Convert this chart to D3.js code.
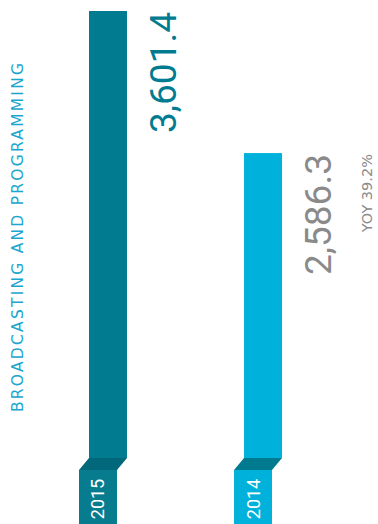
<!DOCTYPE html>
<html>
<head>
<meta charset="utf-8">
<script src="https://cdn.jsdelivr.net/npm/d3@7"></script>
<style>
  body { margin: 0; background: #fff; }
  text { font-family: Roboto, "Noto Sans", sans-serif; }
</style>
</head>
<body>
<div id="chart"></div>
<script>
// data
var years = ["2015", "2014"];
var values = [3601.4, 2586.3];
var valueLabels = ["3,601.4", "2,586.3"];
var yoyLabel = "YOY 39.2%";
var title = "BROADCASTING AND PROGRAMMING";

// colours per year
var barColor = {"2015": "#007b8f", "2014": "#00b1dc"};
var foldColor = {"2015": "#00687a", "2014": "#007a8e"};
var boxColor = {"2015": "#087c8f", "2014": "#00b1dc"};
var valueColor = {"2015": "#007b8f", "2014": "#8a8a8a"};

var width = 378, height = 524;
var baseY = 458, foldH = 12, foldShift = 10;

var svg = d3.select("#chart")
    .append("svg")
    .attr("width", width)
    .attr("height", height);

var x = d3.scaleBand()
    .domain(years)
    .range([89, 282])
    .paddingInner(0.755)
    .paddingOuter(0);

var y = d3.scaleLinear()
    .domain([0, 3601.4])
    .range([515, 11]);

var bw = x.bandwidth();

var rows = years.map(function (d, i) {
    return {year: d, value: values[i], label: valueLabels[i]};
});

// bars
svg.selectAll("rect.bar")
    .data(rows).enter()
    .append("rect")
    .attr("class", "bar")
    .attr("x", function (d) { return x(d.year); })
    .attr("y", function (d) { return y(d.value); })
    .attr("width", bw)
    .attr("height", function (d) { return baseY - y(d.value); })
    .style("fill", function (d) { return barColor[d.year]; });

// folded piece under each bar
svg.selectAll("path.fold")
    .data(rows).enter()
    .append("path")
    .attr("class", "fold")
    .attr("d", function (d) {
        var x0 = x(d.year);
        return "M" + x0 + "," + baseY +
            "L" + (x0 + bw) + "," + baseY +
            "L" + (x0 + bw - foldShift) + "," + (baseY + foldH) +
            "L" + (x0 - foldShift) + "," + (baseY + foldH) + "Z";
    })
    .style("fill", function (d) { return foldColor[d.year]; });

// year boxes
svg.selectAll("rect.box")
    .data(rows).enter()
    .append("rect")
    .attr("class", "box")
    .attr("x", function (d) { return x(d.year) - foldShift; })
    .attr("y", baseY + foldH)
    .attr("width", bw)
    .attr("height", height - baseY - foldH)
    .style("fill", function (d) { return boxColor[d.year]; });

// year labels
svg.selectAll("text.year")
    .data(rows).enter()
    .append("text")
    .attr("class", "year")
    .attr("transform", function (d) {
        return "translate(" + (x(d.year) - foldShift + bw / 2 + 6.5) + ",499) rotate(-90)";
    })
    .attr("text-anchor", "middle")
    .style("font-size", "18px")
    .style("fill", "#fff")
    .text(function (d) { return d.year; });

// value labels
svg.selectAll("text.value")
    .data(rows).enter()
    .append("text")
    .attr("class", "value")
    .attr("transform", function (d) {
        return "translate(" + (x(d.year) + bw + 49) + "," + (y(d.value) + 1) + ") rotate(-90)";
    })
    .attr("text-anchor", "end")
    .style("font-size", "37px")
    .style("fill", function (d) { return valueColor[d.year]; })
    .text(function (d) { return d.label; });

// yoy
svg.append("text")
    .attr("transform", "translate(372," + (y(values[1]) + 1) + ") rotate(-90)")
    .attr("text-anchor", "end")
    .style("font-family", "'DejaVu Sans', sans-serif")
    .style("font-size", "14.5px")
    .style("fill", "#8a8a8a")
    .text(yoyLabel);

// title
svg.append("text")
    .attr("transform", "translate(23,237.5) rotate(-90)")
    .attr("text-anchor", "middle")
    .attr("textLength", 349)
    .attr("lengthAdjust", "spacing")
    .style("font-family", "'DejaVu Sans', sans-serif")
    .style("font-size", "15.5px")
    .style("fill", "#1aa6cf")
    .text(title);
</script>
</body>
</html>
